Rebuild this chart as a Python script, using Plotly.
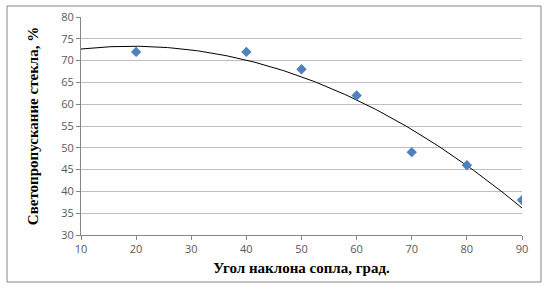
import numpy as np
import plotly.graph_objects as go

angles = [20, 40, 50, 60, 70, 80, 90]
transmission = [72, 72, 68, 62, 49, 46, 38]
x_ticks = [10, 20, 30, 40, 50, 60, 70, 80, 90]
y_ticks = [30, 35, 40, 45, 50, 55, 60, 65, 70, 75, 80]

# Polynomial (order 2) trendline, like Excel's
coef = np.polyfit(angles, transmission, 2)
xs = np.linspace(10, 90, 200)
ys = np.polyval(coef, xs)

W, H = 551, 289
L, R, T, B = 81, 29, 17, 54
pw, ph = W - L - R, H - T - B

def px(x):
    return (x - L) / pw

def py(y):
    return 1 - (y - T) / ph

fig = go.Figure()
fig.add_trace(go.Scatter(x=xs, y=ys, mode="lines",
                         line=dict(color="#000000", width=1), hoverinfo="skip"))
fig.add_trace(go.Scatter(x=angles, y=transmission, mode="markers",
                         marker=dict(symbol="diamond", size=8, color="#4F81BD",
                                     line=dict(width=0))))

fig.update_layout(
    width=W, height=H,
    margin=dict(l=L, r=R, t=T, b=B),
    paper_bgcolor="white", plot_bgcolor="white",
    showlegend=False,
    xaxis=dict(range=[10, 90], tickvals=x_ticks, showgrid=False, automargin=False,
               showline=True, linecolor="#868686", linewidth=1,
               ticks="outside", tickcolor="#868686", ticklen=4,
               tickfont=dict(family="Open Sans", size=11, color="#595959"),
               zeroline=False,
               title=dict(text="<b>Угол наклона сопла, град.</b>",
                          font=dict(family="Liberation Serif", size=15, color="#000000"),
                          standoff=7)),
    yaxis=dict(range=[30, 80], tickvals=y_ticks, showgrid=True, automargin=False,
               gridcolor="#BEBEBE", gridwidth=1,
               showline=True, linecolor="#868686", linewidth=1,
               ticks="outside", tickcolor="#868686", ticklen=4,
               tickfont=dict(family="Open Sans", size=11, color="#595959"),
               zeroline=False,
               title=dict(text="<b>Светопропускание стекла, %</b>",
                          font=dict(family="Liberation Serif", size=15, color="#000000"),
                          standoff=18)),
    shapes=[dict(type="rect", xref="paper", yref="paper",
                 x0=px(7), x1=px(541), y0=py(6), y1=py(282),
                 line=dict(color="#868686", width=1), fillcolor="rgba(0,0,0,0)",
                 layer="below")],
)

fig.write_html("out.html", config={"displayModeBar": False},
               post_script="document.body.style.margin='0';")
